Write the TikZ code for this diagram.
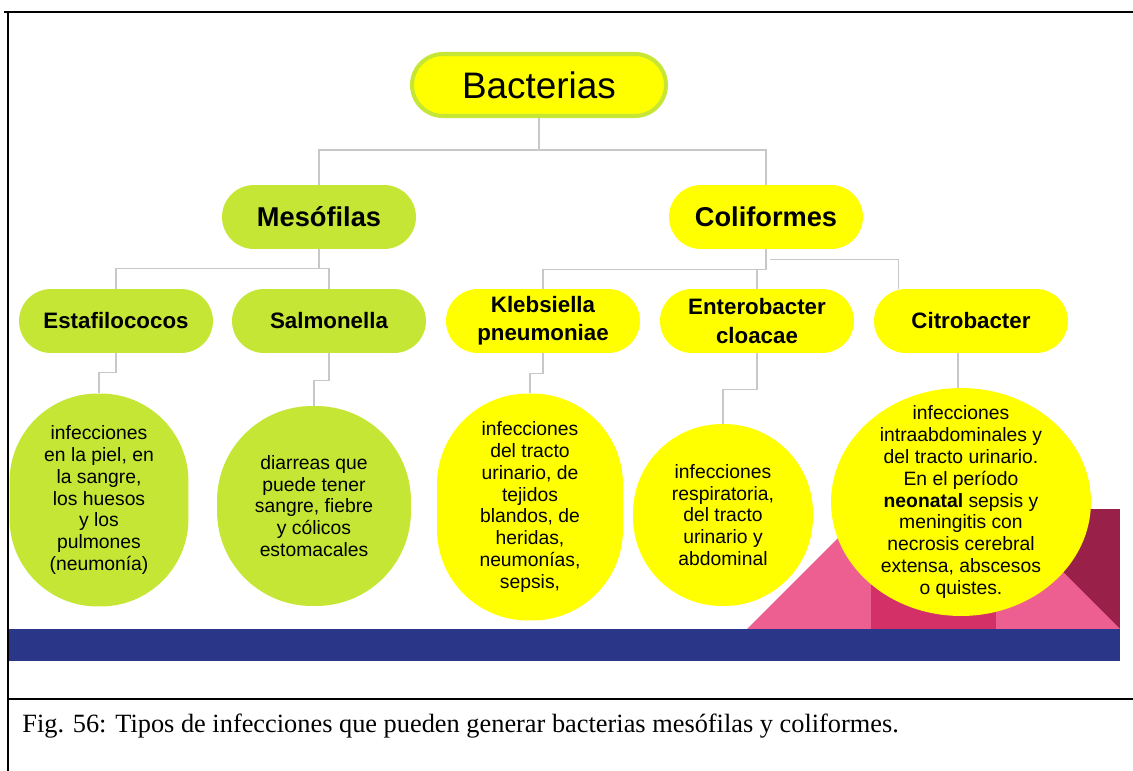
\documentclass[tikz,border=0pt]{standalone}
\usepackage{fontspec}
\setmainfont{Liberation Serif}
\newfontfamily\diagfont{Liberation Sans}
\usetikzlibrary{calc}
\usetikzlibrary{shapes.geometric}
\definecolor{lima}{RGB}{197,230,52}
\definecolor{amarillo}{RGB}{255,255,0}
\definecolor{azul}{RGB}{42,55,137}
\definecolor{rosa}{RGB}{237,95,145}
\definecolor{rosamedio}{RGB}{212,48,104}
\definecolor{granate}{RGB}{152,32,73}
\definecolor{gris}{RGB}{200,200,200}

\begin{document}
\begin{tikzpicture}[x=0.02cm, y=-0.02cm,
          pastilla/.style={rounded corners=0.64cm, minimum width=3.88cm, minimum height=1.28cm, inner sep=0pt, align=center, font=\diagfont\bfseries\fontsize{12.7}{16}\selectfont},
          globo/.style={inner sep=0pt, align=center, font=\diagfont\fontsize{11}{12.4}\selectfont},
          enlace/.style={draw=gris, line width=0.9pt}]
          \useasboundingbox (0,0) rectangle (1133,771);

          \fill[granate] (1000,509) rectangle (1120,629);
          \fill[rosa] (747,629) -- (933.5,442.5) -- (1120,629) -- cycle;
          \fill[rosamedio] (871,505) rectangle (996,629);
          \fill[azul] (8,629) rectangle (1120,661);

          \draw[line width=1.7pt] (4,12) -- (1133,12);
          \draw[line width=1.2pt] (8,12) -- (8,771);
          \draw[line width=1.4pt] (8,699) -- (1133,699);

          \node[draw=lima, line width=2.3pt, fill=amarillo, rounded corners=0.62cm, minimum width=5.08cm, minimum height=1.24cm, font=\diagfont\fontsize{21}{25}\selectfont] (bact) at (539,85) {Bacterias};

          \node[pastilla, fill=lima, font=\diagfont\bfseries\fontsize{15.5}{18}\selectfont] (meso) at (319,217) {Mesófilas};
          \node[pastilla, fill=amarillo, font=\diagfont\bfseries\fontsize{15.5}{18}\selectfont] (coli) at (766,217) {Coliformes};

          \node[pastilla, fill=lima] (esta) at (116,321) {Estafilococos};
          \node[pastilla, fill=lima] (salm) at (329,321) {Salmonella};
          \node[pastilla, fill=amarillo] (kleb) at (543,321) {Klebsiella\\pneumoniae};
          \node[pastilla, fill=amarillo] (ente) at (757,321) {Enterobacter\\cloacae};
          \node[pastilla, fill=amarillo] (citro) at (971,321) {Citrobacter};

          \node[globo, fill=lima, rounded corners=1.76cm, minimum width=3.58cm, minimum height=4.26cm] (infa) at (99,500) {infecciones\\en la piel, en\\la sangre,\\los huesos\\y los\\pulmones\\(neumonía)};
          \node[globo, fill=lima, rounded corners=1.9cm, minimum width=3.88cm, minimum height=4.0cm] (infb) at (314,506) {diarreas que\\puede tener\\sangre, fiebre\\y cólicos\\estomacales};
          \node[globo, fill=amarillo, rounded corners=1.82cm, minimum width=3.72cm, minimum height=4.54cm] (infc) at (530,507) {infecciones\\del tracto\\urinario, de\\tejidos\\blandos, de\\heridas,\\neumonías,\\sepsis,};
          \node[globo, fill=amarillo, rounded corners=1.78cm, minimum width=3.6cm, minimum height=3.64cm] (infd) at (723,515) {infecciones\\respiratoria,\\del tracto\\urinario y\\abdominal};
          \node[globo, ellipse, fill=amarillo, inner xsep=0pt, inner ysep=-10pt, minimum width=5.2cm, minimum height=4.56cm] (infe) at (961,502) {infecciones\\intraabdominales y\\del tracto urinario.\\En el período\\{\bfseries neonatal} sepsis y\\meningitis con\\necrosis cerebral\\extensa, abscesos\\o quistes.};

          \draw[enlace] (bact.south) -- ++(0,32) -| (meso.north);
          \draw[enlace] (bact.south) ++(0,32) -| (coli.north);
          \draw[enlace] (meso.south) -- ++(0,19) -| (esta.north);
          \draw[enlace] (meso.south) ++(0,19) -| (salm.north);
          \draw[enlace] (coli.south) -- ++(0,20) -| (kleb.north);
          \draw[enlace] (coli.south) ++(0,20) -| (ente.north);
          \draw[enlace] ($(coli.south)+(4,10)$) -| ($(citro.north west)+(25,0)$);

          \draw[enlace] (esta.south) -- ++(0,19) -| (infa.north);
          \draw[enlace] (salm.south) -- ++(0,27) -| (infb.north);
          \draw[enlace] (kleb.south) -- ++(0,20) -| (infc.north);
          \draw[enlace] (ente.south) -- ++(0,36) -| (infd.north);
          \draw[enlace] ($(infe.north)+(-3,0)$) -- ($(infe.north |- citro.south)+(-3,0)$);

          \node[anchor=base west, inner sep=0pt, font=\fontsize{15}{17}\selectfont] (pie) at (22,732) {Fig. 56: Tipos de infecciones que pueden generar bacterias mesófilas y coliformes.};

        \end{tikzpicture}
\end{document}
